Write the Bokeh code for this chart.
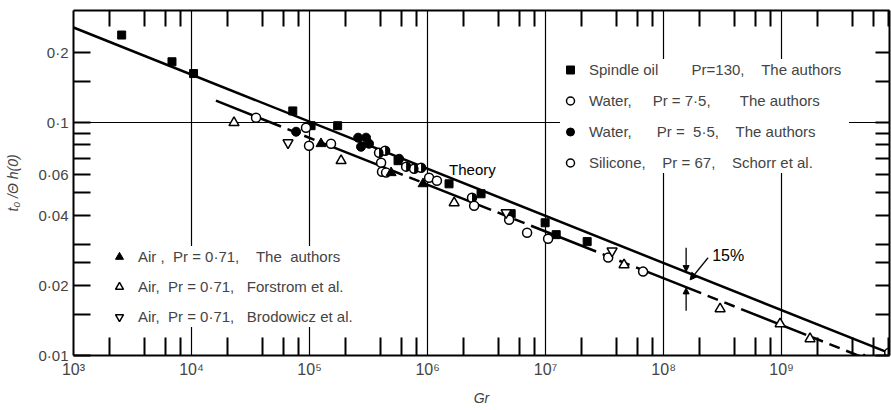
import math
from bokeh.plotting import figure
from bokeh.models import (LogAxis, FixedTicker, Legend, LegendItem, Arrow, NormalHead,
                          CustomJSTickFormatter)
from bokeh.core.properties import value
from bokeh.embed import file_html
from bokeh.resources import INLINE

FONT = "Liberation Sans"

# ---------------- data ----------------
# Spindle oil, Pr = 130, the authors (filled squares)
oil_gr = [2.56e3, 6.83e3, 1.04e4, 7.21e4, 1.03e5, 1.73e5, 5.62e5, 1.52e6, 2.84e6, 5.11e6, 9.91e6, 1.23e7, 2.25e7]
oil_t = [0.237, 0.182, 0.162, 0.112, 0.0968, 0.0968, 0.0685, 0.0545, 0.0494, 0.0406, 0.0371, 0.0330, 0.0308]
# Water, Pr = 7.5, the authors (half-filled circles)
w75_gr = [3.88e5, 4.37e5, 6.58e5, 7.69e5, 8.81e5, 2.38e6]
w75_t = [0.0741, 0.0756, 0.0646, 0.0633, 0.0639, 0.0475]
# Water, Pr = 5.5, the authors (filled circles)
w55_gr = [7.69e4, 2.58e5, 3.01e5, 2.73e5, 3.19e5, 5.74e5]
w55_t = [0.0912, 0.0860, 0.0860, 0.0786, 0.0810, 0.0698]
# Silicone, Pr = 67, Schorr et al. (open circles)
sil_gr = [3.52e4, 9.33e4, 9.90e4, 1.52e5, 4.04e5, 4.11e5, 4.45e5, 1.03e6, 1.20e6, 2.48e6,
          4.91e6, 6.97e6, 1.05e7, 3.39e7, 6.70e7, 8.15e9]
sil_t = [0.1047, 0.0949, 0.0794, 0.0810, 0.0671, 0.0614, 0.0609, 0.0579, 0.0562, 0.0439,
         0.0382, 0.0336, 0.0317, 0.0263, 0.0229, 0.01028]
# Air, Pr = 0.71, the authors (filled triangles)
air_gr = [1.25e5, 4.91e5, 9.16e5]
air_t = [0.0810, 0.0608, 0.0545]
# Air, Pr = 0.71, Forstrom et al. (open triangles)
for_gr = [2.29e4, 1.85e5, 1.68e6, 4.62e7, 3.01e8, 9.70e8, 1.74e9, 5.0e9]
for_t = [0.0997, 0.0685, 0.0452, 0.0245, 0.01586, 0.01367, 0.0118, 0.00958]
# Air, Pr = 0.71, Brodowicz et al. (open inverted triangles)
bro_gr = [6.57e4, 4.63e6, 3.66e7]
bro_t = [0.0818, 0.0410, 0.0281]

# Theory line and the empirical (lower) line
theory_gr = [1.0e3, 8.2e9]
theory_t = [0.2554, 0.01023]
corr_gr = [1.61e4, 6.7e9]
corr_t = [0.1239, 0.00921]

# tick labels
x_ticks = [1e3, 1e4, 1e5, 1e6, 1e7, 1e8, 1e9]
x_tick_labels = ["10\u00b3", "10\u2074", "10\u2075", "10\u2076", "10\u2077", "10\u2078", "10\u2079"]
y_ticks = [0.01, 0.02, 0.04, 0.06, 0.1, 0.2]
y_tick_labels = ["0\u00b701", "0\u00b702", "0\u00b704", "0\u00b706", "0\u00b71", "0\u00b72"]
y_minor = [0.015, 0.025, 0.03, 0.05, 0.07, 0.08, 0.09, 0.15]
x_minor = [d * m for d in x_ticks for m in (2, 4, 6, 8)]

legend_labels = [
    "Spindle oil        Pr=130,    The authors",
    "Water,     Pr = 7\u00b75,       The authors",
    "Water,      Pr =  5\u00b75,    The authors",
    "Silicone,    Pr = 67,    Schorr et al.",
    "Air ,  Pr = 0\u00b771,    The  authors",
    "Air,  Pr = 0\u00b771,   Forstrom et al.",
    "Air,  Pr = 0\u00b771,   Brodowicz et al.",
]
legend_labels = [s.replace(" ", "\u00a0") for s in legend_labels]

theory_label = ("Theory", 1.52e6, 0.0626)
pct_label = ("15%", 2.58e8, 0.0268)
arrow_top = (1.551e8, 0.0290, 0.0229)      # x, y_start, y_end
arrow_bottom = (1.551e8, 0.01555, 0.0195)
arrow_diag = (2.38e8, 0.02626, 1.677e8, 0.0211)

LOOKUP = """
for (let i = 0; i < tv.length; i++) {
  if (Math.abs(tv[i] - tick) <= 1e-6 * tv[i]) { return tl[i]; }
}
return "";
"""
EMPTY = 'return "";'

# ---------------- figure ----------------
p = figure(width=891, height=410, x_axis_type="log", y_axis_type="log",
           x_range=(1e3, 8.2e9), y_range=(0.01, 0.302),
           output_backend="svg", toolbar_location=None,
           min_border_left=73, min_border_right=2, min_border_top=10, min_border_bottom=55)
p.outline_line_color = None
p.background_fill_color = "white"
p.border_fill_color = "white"

# bottom axis
xa = p.xaxis[0]
xa.ticker = FixedTicker(ticks=x_ticks, minor_ticks=x_minor)
xa.formatter = CustomJSTickFormatter(args=dict(tv=x_ticks, tl=x_tick_labels), code=LOOKUP)
xa.major_tick_in = 0
xa.major_tick_out = 0
xa.minor_tick_in = 18
xa.minor_tick_out = 0
xa.axis_line_width = 2
xa.minor_tick_line_width = 2
xa.major_label_text_font = FONT
xa.major_label_text_font_size = "16px"
xa.major_label_standoff = 5
xa.axis_label = "Gr"
xa.axis_label_text_font = FONT
xa.axis_label_text_font_style = "italic"
xa.axis_label_text_font_size = "14px"
xa.axis_label_standoff = 9

# left axis
ya = p.yaxis[0]
ya.ticker = FixedTicker(ticks=y_ticks, minor_ticks=y_minor)
ya.formatter = CustomJSTickFormatter(args=dict(tv=y_ticks, tl=y_tick_labels), code=LOOKUP)
ya.major_tick_in = 17
ya.major_tick_out = 0
ya.minor_tick_in = 17
ya.minor_tick_out = 0
ya.axis_line_width = 2
ya.major_tick_line_width = 2
ya.minor_tick_line_width = 2
ya.major_label_text_font = FONT
ya.major_label_text_font_size = "15px"
ya.major_label_standoff = 5
ya.axis_label = "t\u2080 /\u0398 h(0)"
ya.axis_label_text_font = FONT
ya.axis_label_text_font_style = "italic"
ya.axis_label_text_font_size = "14px"
ya.axis_label_standoff = 14

# top and right axes (ticks only)
top = LogAxis(ticker=FixedTicker(ticks=x_ticks, minor_ticks=x_minor),
              formatter=CustomJSTickFormatter(code=EMPTY),
              major_tick_in=0, major_tick_out=0, minor_tick_in=16, minor_tick_out=0,
              axis_line_width=2, minor_tick_line_width=2,
              major_label_text_font_size="1px", major_label_standoff=0,
              axis_label_standoff=0)
p.add_layout(top, "above")
right = LogAxis(ticker=FixedTicker(ticks=y_ticks, minor_ticks=y_minor),
                formatter=CustomJSTickFormatter(code=EMPTY),
                major_tick_in=14, major_tick_out=0, minor_tick_in=14, minor_tick_out=0,
                axis_line_width=2, major_tick_line_width=2, minor_tick_line_width=2,
                major_label_text_font_size="1px", major_label_standoff=0,
                axis_label_standoff=0)
p.add_layout(right, "right")

# grids
p.xgrid.ticker = FixedTicker(ticks=x_ticks)
p.xgrid.grid_line_color = "black"
p.xgrid.grid_line_width = 1.2
p.ygrid.ticker = FixedTicker(ticks=[0.1])
p.ygrid.grid_line_color = "black"
p.ygrid.grid_line_width = 1.2

# lines
p.line(theory_gr, theory_t, line_color="black", line_width=2.5)
p.line(corr_gr, corr_t, line_color="black", line_width=2.5, line_dash="70 7 11 7 11 7")

# markers
r_oil = p.scatter(oil_gr, oil_t, marker="square", size=8, fill_color="black", line_color="black")
r_w75 = p.scatter(w75_gr, w75_t, marker="circle", size=9, fill_color="white",
                  line_color="black", line_width=1.5)
p.wedge(w75_gr, w75_t, radius=4.5, radius_units="screen", start_angle=-math.pi / 2,
        end_angle=math.pi / 2, fill_color="black", line_color=None)
r_w55 = p.scatter(w55_gr, w55_t, marker="circle", size=9, fill_color="black", line_color="black")
r_sil = p.scatter(sil_gr, sil_t, marker="circle", size=9, fill_color="white",
                  line_color="black", line_width=1.5)
r_air = p.scatter(air_gr, air_t, marker="triangle", size=10, fill_color="black", line_color="black")
r_for = p.scatter(for_gr, for_t, marker="triangle", size=10, fill_color="white",
                  line_color="black", line_width=1.5)
r_bro = p.scatter(bro_gr, bro_t, marker="inverted_triangle", size=10, fill_color="white",
                  line_color="black", line_width=1.5)

# texts
p.text(x=[theory_label[1]], y=[theory_label[2]], text=[theory_label[0]],
       text_font=value(FONT), text_font_size="15px", text_baseline="middle", text_align="left")
p.text(x=[pct_label[1]], y=[pct_label[2]], text=[pct_label[0]],
       text_font=value(FONT), text_font_size="16px", text_baseline="middle", text_align="left")

# 15 % arrows
for xs, ys, ye in (arrow_top, arrow_bottom):
    p.add_layout(Arrow(end=NormalHead(size=6, fill_color="black", line_color="black"),
                       x_start=xs, y_start=ys, x_end=xs, y_end=ye, line_width=1.3))
p.add_layout(Arrow(end=NormalHead(size=7, fill_color="black", line_color="black"),
                   x_start=arrow_diag[0], y_start=arrow_diag[1],
                   x_end=arrow_diag[2], y_end=arrow_diag[3], line_width=1.3))


def make_legend(items, loc, spacing, label_width):
    return Legend(items=items, location=loc, padding=4, spacing=spacing, margin=0,
                  glyph_width=20, glyph_height=21, label_height=21, label_standoff=9,
                  label_width=label_width, label_text_font=FONT, label_text_font_size="15px",
                  background_fill_color="white", background_fill_alpha=1.0,
                  border_line_color=None)


leg1 = make_legend([LegendItem(label=legend_labels[0], renderers=[r_oil]),
                    LegendItem(label=legend_labels[1], renderers=[r_w75]),
                    LegendItem(label=legend_labels[2], renderers=[r_w55]),
                    LegendItem(label=legend_labels[3], renderers=[r_sil])],
                   (487, 182), 10, 260)
leg2 = make_legend([LegendItem(label=legend_labels[4], renderers=[r_air]),
                    LegendItem(label=legend_labels[5], renderers=[r_for]),
                    LegendItem(label=legend_labels[6], renderers=[r_bro])],
                   (36, 28), 9, 286)
p.add_layout(leg1)
p.add_layout(leg2)

open("out.html", "w").write(file_html(p, INLINE))
